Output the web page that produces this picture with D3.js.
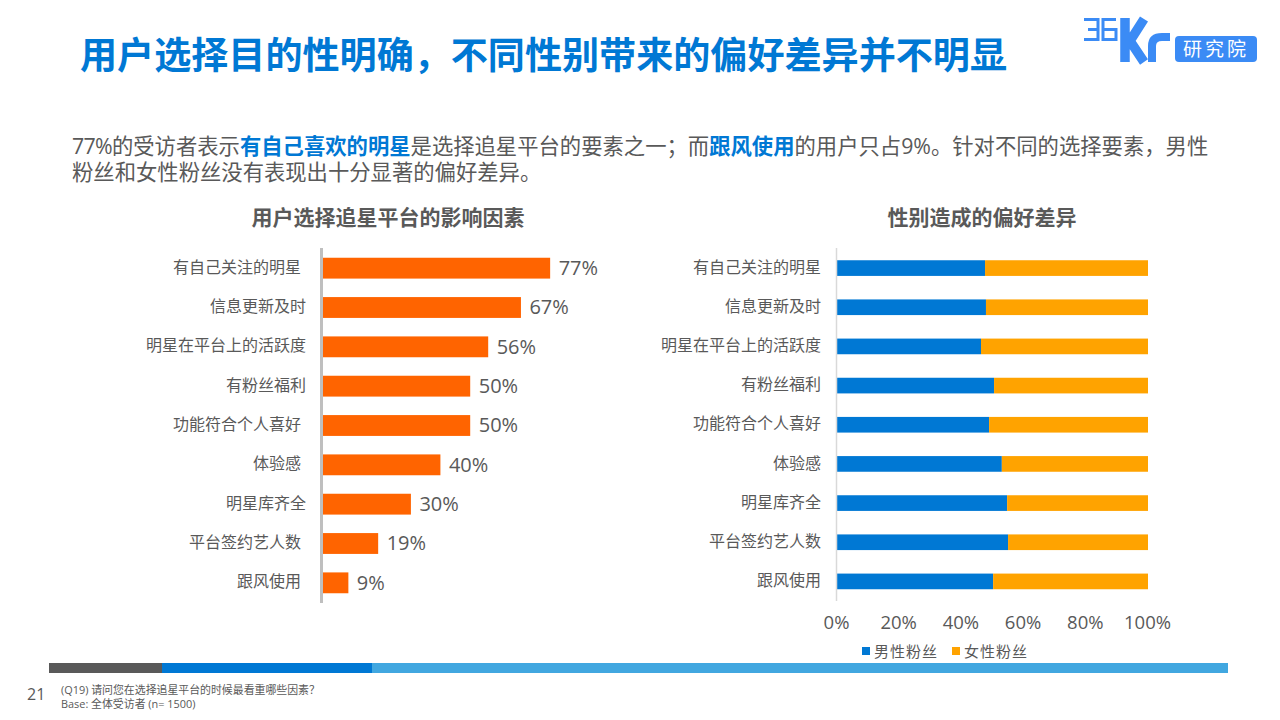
<!DOCTYPE html>
<html lang="zh-CN">
<head>
<meta charset="utf-8">
<script src="https://cdn.jsdelivr.net/npm/d3@7"></script>
<style>
  html, body { margin: 0; padding: 0; background: #fff; }
  svg { display: block; }
  text { font-family: "Open Sans", "Noto Sans CJK SC", sans-serif; fill: #595959; }
</style>
</head>
<body>
<svg id="chart" width="1280" height="720"></svg>
<script>
const factors = ["有自己关注的明星", "信息更新及时", "明星在平台上的活跃度", "有粉丝福利", "功能符合个人喜好", "体验感", "明星库齐全", "平台签约艺人数", "跟风使用"];
const factorShare = [77, 67.1, 56, 49.9, 49.9, 39.8, 29.8, 18.7, 8.6];
const maleShare = [47.6, 47.9, 46.3, 50.5, 48.9, 53, 54.7, 55, 50.2];
const femaleShare = [52.4, 52.1, 53.7, 49.5, 51.1, 47, 45.3, 45, 49.8];
const seriesNames = ["男性粉丝", "女性粉丝"];
const seriesColors = ["#0078d4", "#ffa300"];
const percentTicks = [0, 20, 40, 60, 80, 100];
const footerStops = [49, 162, 372, 1228];
const footerColors = ["#595959", "#0078d4", "#41a7e0"];
// left chart labels that sit a little further from the axis in the source
const insetLabels = ["有自己关注的明星", "功能符合个人喜好", "体验感", "平台签约艺人数", "跟风使用"];

// full-width punctuation
const COMMA = "\uFF0C", SEMI = "\uFF1B", QMARK = "\uFF1F";

const blue = "#0078d4";
const svg = d3.select("#chart");

// title + intro
svg.append("text").attr("x", 80).attr("y", 69)
  .attr("font-size", 37.1).attr("font-weight", 700).style("fill", blue)
  .text(`用户选择目的性明确${COMMA}不同性别带来的偏好差异并不明显`);

const intro = svg.append("text").attr("x", 72).attr("y", 154).attr("font-size", 21.33);
intro.append("tspan").attr("letter-spacing", -0.7).text("77%");
intro.append("tspan").text("的受访者表示");
intro.append("tspan").attr("font-weight", 700).style("fill", blue).text("有自己喜欢的明星");
intro.append("tspan").text(`是选择追星平台的要素之一${SEMI}而`);
intro.append("tspan").attr("font-weight", 700).style("fill", blue).text("跟风使用");
intro.append("tspan").text(`的用户只占9%。针对不同的选择要素${COMMA}男性`);
svg.append("text").attr("x", 72).attr("y", 180).attr("font-size", 21.33)
  .text("粉丝和女性粉丝没有表现出十分显著的偏好差异。");

svg.append("text").attr("x", 388).attr("y", 225).attr("text-anchor", "middle")
  .attr("font-size", 21).attr("font-weight", 700).text("用户选择追星平台的影响因素");
svg.append("text").attr("x", 982).attr("y", 225).attr("text-anchor", "middle")
  .attr("font-size", 21).attr("font-weight", 700).text("性别造成的偏好差异");

// left chart
const leftX = d3.scaleLinear().domain([0, 100]).range([323, 618]);
const leftY = d3.scaleBand().domain(factors).range([248.5, 602.5]).paddingInner(0.47).paddingOuter(0.235);

svg.append("g").selectAll("rect").data(factors).join("rect")
  .attr("x", leftX(0))
  .attr("y", (d) => leftY(d))
  .attr("width", (d, i) => leftX(factorShare[i]) - leftX(0))
  .attr("height", leftY.bandwidth())
  .attr("fill", "#ff6400");

svg.append("line").attr("x1", 321.5).attr("x2", 321.5).attr("y1", 248).attr("y2", 603)
  .attr("stroke", "#bfbfbf").attr("stroke-width", 3);

svg.append("g").selectAll("text").data(factors).join("text")
  .attr("x", (d) => insetLabels.includes(d) ? 301 : 306)
  .attr("y", (d) => leftY(d) + leftY.bandwidth() / 2 - 1)
  .attr("dy", "0.35em").attr("text-anchor", "end").attr("font-size", 16)
  .text((d) => d);

svg.append("g").selectAll("text").data(factors).join("text")
  .attr("x", (d, i) => leftX(factorShare[i]) + 8.5)
  .attr("y", (d) => leftY(d) + leftY.bandwidth() / 2 - 0.5)
  .attr("dy", "0.36em").attr("font-size", 20)
  .text((d, i) => Math.round(factorShare[i]) + "%");

// right chart
const rightX = d3.scaleLinear().domain([0, 100]).range([837, 1148]);
const rightY = d3.scaleBand().domain(factors).range([248.5, 601]).paddingInner(0.6).paddingOuter(0.3);

const stacked = d3.stack().keys([0, 1]).value((row, key) => row[key])(
  factors.map((f, i) => [maleShare[i], femaleShare[i]])
);

svg.append("g").selectAll("g").data(stacked).join("g")
  .attr("fill", (d, i) => seriesColors[i])
  .selectAll("rect").data((d) => d).join("rect")
  .attr("x", (d) => rightX(d[0]))
  .attr("y", (d, i) => rightY(factors[i]))
  .attr("width", (d) => rightX(d[1]) - rightX(d[0]))
  .attr("height", rightY.bandwidth());

svg.append("line").attr("x1", 836.5).attr("x2", 836.5).attr("y1", 248).attr("y2", 601)
  .attr("stroke", "#d9d9d9").attr("stroke-width", 1.5);

svg.append("g").selectAll("text").data(factors).join("text")
  .attr("x", 821)
  .attr("y", (d) => rightY(d) + rightY.bandwidth() / 2 - 1)
  .attr("dy", "0.35em").attr("text-anchor", "end").attr("font-size", 16)
  .text((d) => d);

svg.append("g").selectAll("text").data(percentTicks).join("text")
  .attr("x", (d) => rightX(d) - 0.5).attr("y", 629)
  .attr("text-anchor", "middle").attr("font-size", 18.5)
  .text((d) => d + "%");

// legend
const legendX = [862, 952];
const legend = svg.append("g").selectAll("g").data(seriesNames).join("g")
  .attr("transform", (d, i) => `translate(${legendX[i]},647)`);
legend.append("rect").attr("width", 8).attr("height", 8).attr("fill", (d, i) => seriesColors[i]);
legend.append("text").attr("x", 12).attr("y", 4).attr("dy", "0.37em")
  .attr("font-size", 15).attr("letter-spacing", 1).text((d) => d);

// footer band
svg.append("g").selectAll("rect").data(footerColors).join("rect")
  .attr("x", (d, i) => footerStops[i]).attr("y", 663)
  .attr("width", (d, i) => footerStops[i + 1] - footerStops[i]).attr("height", 10)
  .attr("fill", (d) => d);

svg.append("text").attr("x", 27).attr("y", 700).attr("font-size", 16).text("21");
svg.append("text").attr("x", 61).attr("y", 694).attr("font-size", 10.9).text(`(Q19) 请问您在选择追星平台的时候最看重哪些因素${QMARK}`);
svg.append("text").attr("x", 61).attr("y", 708).attr("font-size", 10.9).text("Base: 全体受访者 (n= 1500)");

// logo
const logoBlue = "#3b8bf5";
const logo = svg.append("g").attr("fill", "none").attr("stroke", logoBlue);
logo.append("path").attr("stroke-width", 3)
  .attr("d", "M1084 19.5H1098V39.5H1084M1088 29.5H1098M1116 19.5H1103V39.5H1116V29.5H1103");
logo.append("path").attr("stroke-width", 9.5)
  .attr("d", "M1125 18V62M1144 19L1130 41L1144 62");
logo.append("path").attr("stroke-width", 8)
  .attr("d", "M1152 62V46Q1152 37 1162 37H1170");
svg.append("rect").attr("x", 1175).attr("y", 36).attr("width", 82).attr("height", 26).attr("rx", 4)
  .attr("fill", logoBlue);
svg.append("text").attr("x", 1216).attr("y", 49).attr("dy", "0.36em").attr("text-anchor", "middle")
  .attr("font-size", 19).attr("letter-spacing", 3).style("fill", "#fff").text("研究院");
</script>
</body>
</html>
